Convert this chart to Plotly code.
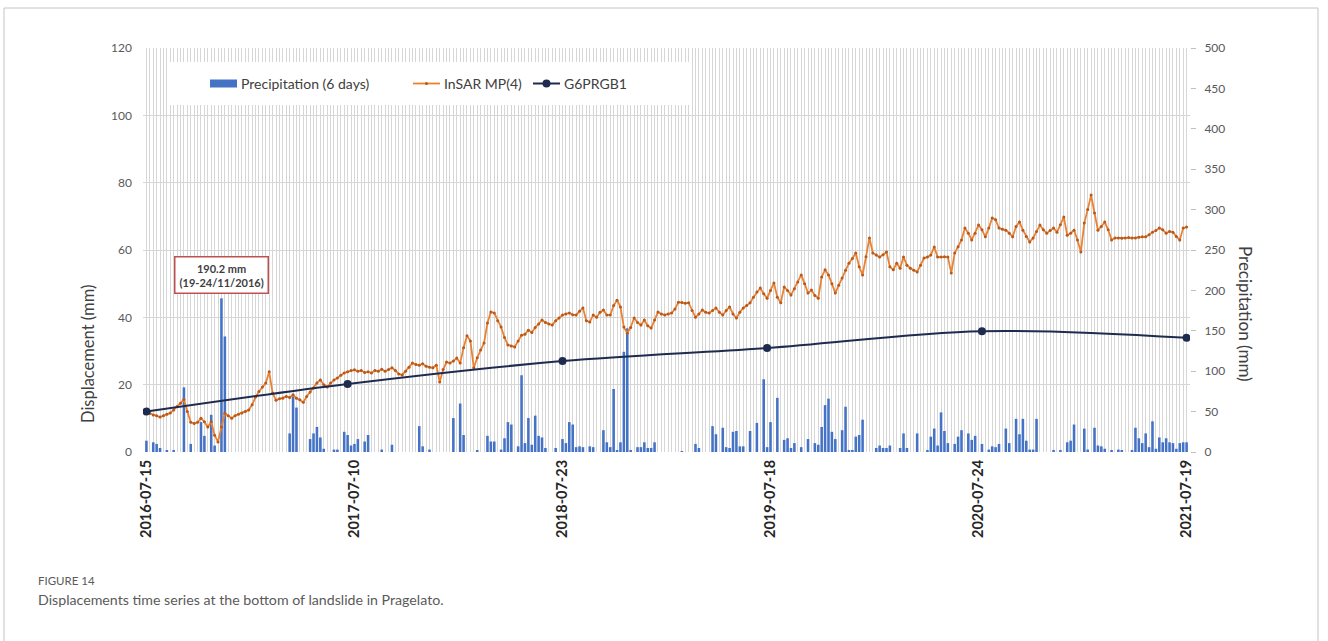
import plotly.graph_objects as go

# ---------------- data ----------------
tick_labels = ["2016-07-15", "2017-07-10", "2018-07-23", "2019-07-18", "2020-07-24", "2021-07-19"]
tick_index = [0, 61, 122, 183, 244, 305]

precipitation = [
    14, 0, 12, 10, 5, 0, 2, 0, 2, 0,
    0, 80, 0, 10, 0, 0, 37, 20, 0, 46,
    8, 0, 190.2, 143, 0, 0, 0, 0, 0, 0,
    0, 0, 0, 0, 0, 0, 0, 0, 0, 0,
    0, 0, 23, 69, 55, 0, 0, 0, 16, 23,
    31, 18, 4, 0, 0, 3, 3, 0, 25, 21,
    8, 10, 16, 0, 13, 21, 0, 0, 0, 3,
    0, 0, 9, 0, 0, 0, 0, 0, 0, 0,
    32, 7, 0, 3, 0, 0, 0, 0, 0, 0,
    42, 0, 60, 21, 0, 0, 0, 2, 0, 0,
    20, 13, 13, 0, 3, 17, 37, 34, 0, 7,
    95, 11, 42, 9, 45, 20, 18, 5, 0, 0,
    5, 0, 16, 11, 37, 34, 6, 7, 6, 0,
    7, 6, 0, 0, 27, 12, 6, 78, 2, 12,
    124, 153, 2, 0, 6, 6, 12, 5, 5, 12,
    0, 0, 0, 0, 0, 0, 0, 1, 0, 0,
    0, 10, 5, 0, 0, 0, 32, 22, 0, 30,
    6, 5, 25, 26, 7, 7, 0, 26, 0, 36,
    0, 90, 6, 37, 0, 67, 0, 15, 17, 5,
    11, 0, 6, 0, 16, 0, 11, 9, 31, 58,
    66, 25, 16, 0, 27, 56, 2, 2, 19, 21,
    40, 0, 0, 0, 5, 8, 5, 5, 8, 0,
    0, 5, 23, 5, 0, 0, 23, 0, 0, 2,
    19, 29, 8, 49, 26, 11, 0, 10, 19, 27,
    0, 23, 15, 20, 0, 10, 0, 3, 7, 6,
    10, 0, 29, 11, 0, 41, 22, 41, 14, 3,
    3, 41, 0, 0, 0, 0, 2, 0, 2, 0,
    12, 14, 34, 0, 0, 29, 3, 0, 30, 8,
    7, 4, 0, 2, 0, 3, 2, 0, 0, 2,
    30, 17, 11, 23, 6, 38, 4, 18, 12, 17,
    12, 11, 4, 11, 12, 12,
]

insar_mp4 = [
    11.8, 11.5, 11.0, 10.8, 10.4, 10.8, 11.2, 11.6, 12.5, 13.5,
    14.5, 15.6, 12.0, 8.8, 8.5, 8.8, 10.0, 9.0, 7.4, 9.0,
    5.0, 3.0, 7.4, 11.5, 10.8, 10.0, 10.8, 11.2, 11.6, 12.0,
    12.5, 14.0, 16.3, 18.0, 19.3, 20.5, 23.8, 17.5, 15.4, 15.8,
    16.0, 16.5, 16.2, 17.0, 16.0, 15.5, 14.8, 16.5, 17.8, 19.0,
    20.5, 21.4, 20.0, 19.3, 20.5, 21.4, 22.0, 22.8, 23.5, 23.8,
    24.2, 24.4, 24.0, 24.2, 23.6, 23.8, 23.5, 24.2, 24.0, 24.6,
    24.0, 24.5, 25.0, 24.2, 23.2, 22.9, 24.0, 25.2, 26.4, 26.0,
    25.8, 26.2, 25.5, 25.2, 25.0, 25.8, 20.8, 24.5, 26.7, 26.4,
    27.0, 27.9, 26.4, 31.0, 34.5, 33.0, 25.0, 28.0, 30.3, 32.4,
    38.3, 41.6, 41.3, 39.0, 37.1, 34.0, 31.8, 31.5, 31.2, 33.0,
    34.7, 35.0, 36.2, 35.5, 37.0, 38.0, 39.2, 38.5, 38.0, 37.7,
    39.0, 39.8, 40.7, 41.0, 41.3, 40.8, 40.7, 41.8, 42.8, 39.0,
    38.6, 40.7, 40.0, 41.5, 42.2, 40.7, 40.7, 43.5, 45.1, 43.1,
    37.1, 35.3, 37.0, 39.8, 38.5, 37.7, 39.2, 37.5, 36.8, 39.2,
    41.6, 41.0, 40.7, 41.0, 41.3, 42.5, 44.5, 44.4, 44.2, 44.3,
    42.0, 40.0, 41.0, 42.2, 41.5, 41.3, 42.0, 42.8, 41.5, 40.7,
    42.0, 43.1, 41.0, 39.8, 41.5, 42.8, 43.5, 44.3, 46.0, 47.5,
    48.7, 47.0, 45.7, 48.0, 50.2, 46.0, 44.3, 49.0, 48.0, 46.6,
    48.5, 50.5, 52.6, 50.0, 47.2, 48.1, 46.5, 45.7, 52.0, 54.1,
    52.6, 50.0, 47.2, 49.5, 51.7, 54.0, 56.1, 57.5, 59.1, 55.0,
    52.6, 58.0, 63.6, 59.1, 58.5, 57.9, 58.6, 59.4, 55.0, 54.1,
    56.1, 54.6, 57.9, 55.5, 54.6, 54.0, 53.5, 55.5, 57.6, 57.9,
    58.5, 60.9, 57.9, 57.9, 58.0, 57.9, 53.2, 59.1, 61.0, 63.0,
    66.5, 65.0, 63.0, 65.0, 67.4, 66.0, 63.9, 66.5, 69.5, 69.0,
    66.5, 66.2, 65.9, 65.0, 63.9, 67.0, 68.3, 65.9, 64.0, 62.4,
    63.6, 65.5, 67.4, 66.0, 65.0, 65.8, 66.5, 65.3, 67.5, 69.8,
    64.4, 65.0, 65.9, 63.0, 59.4, 68.0, 72.0, 76.3, 71.0, 65.9,
    67.0, 68.3, 66.0, 63.0, 63.6, 63.6, 63.5, 63.6, 63.7, 63.6,
    63.6, 63.8, 63.9, 63.9, 64.5, 65.3, 65.8, 66.5, 66.0, 65.0,
    65.5, 65.3, 64.0, 63.0, 66.5, 66.8,
]

gnss_index = [0, 59, 122, 182, 245, 305]
gnss_g6prgb1 = [12.0, 20.2, 27.0, 30.9, 35.9, 33.9]

# ---------------- figure ----------------
idx_p = list(range(len(precipitation)))
idx_i = list(range(len(insar_mp4)))

L, R, T, B = 143, 138, 48, 189
W, H = 1328, 641
PW = W - L - R
PH = H - T - B


def px(xp):
    return (xp - L) / PW


def py(yp):
    return (H - B - yp) / PH


BLUE = "#4472C4"
ORANGE = "#EA8233"
ORANGE_DK = "#B8581A"
NAVY = "#1F2B4E"
GRID = "#d6d6d6"
FONT = "Lato"

fig = go.Figure()
fig.add_trace(go.Bar(x=idx_p, y=precipitation, name="Precipitation (6 days)",
                     marker=dict(color=BLUE, line=dict(width=0)), width=0.75,
                     yaxis="y"))
fig.add_trace(go.Scatter(x=idx_i, y=insar_mp4, name="InSAR MP(4)", mode="lines+markers",
                         line=dict(color=ORANGE, width=1.8),
                         marker=dict(size=3, color=ORANGE_DK), yaxis="y2"))
fig.add_trace(go.Scatter(x=gnss_index, y=gnss_g6prgb1, name="G6PRGB1", mode="lines+markers",
                         line=dict(color=NAVY, width=2, shape="spline", smoothing=1),
                         marker=dict(size=8, color=NAVY), yaxis="y2"))

fig.update_layout(
    width=W, height=H,
    margin=dict(l=L, r=R, t=T, b=B),
    paper_bgcolor="white", plot_bgcolor="white",
    showlegend=False,
    font=dict(family=FONT, color="#404040"),
    xaxis=dict(range=[-1, 306], tickmode="array", tickvals=tick_index, ticktext=tick_labels,
               tickangle=-90, tickfont=dict(size=14.5, color="#262626", family=FONT, weight="bold"),
               showgrid=True, gridcolor=GRID, gridwidth=1, zeroline=False, showline=False,
               ticks="", ticklabelstandoff=4,
               minor=dict(dtick=1, tick0=0, showgrid=True, gridcolor=GRID, gridwidth=1, ticks="")),
    yaxis=dict(side="right", range=[0, 500], dtick=50, showgrid=False, zeroline=False,
               ticks="outside", ticklen=5, tickcolor="#bfbfbf",
               tickfont=dict(size=12, color="#595959"), ticklabelstandoff=6),
    yaxis2=dict(overlaying="y", side="left", range=[0, 120], dtick=20, showgrid=True,
                gridcolor=GRID, zeroline=False, ticks="",
                tickfont=dict(size=12, color="#595959"), ticklabelstandoff=10),
)

shapes = []
ann = []

# outer frame (open at bottom)
fx0, fx1, fy0 = px(4), px(1318), py(8)
fyb = py(700)
shapes.append(dict(type="path", xref="paper", yref="paper",
                   path=f"M {fx0} {fyb} L {fx0} {fy0} L {fx1} {fy0} L {fx1} {fyb}",
                   line=dict(color="#c4c4c4", width=1), layer="above"))

# legend box
shapes.append(dict(type="rect", xref="paper", yref="paper", x0=px(167), x1=px(690),
                   y0=py(105), y1=py(62), fillcolor="white", line=dict(width=0), layer="above"))
shapes.append(dict(type="rect", xref="paper", yref="paper", x0=px(210), x1=px(237),
                   y0=py(87.5), y1=py(79.5), fillcolor=BLUE, line=dict(width=0), layer="above"))
shapes.append(dict(type="line", xref="paper", yref="paper", x0=px(413), x1=px(440),
                   y0=py(83.5), y1=py(83.5), line=dict(color=ORANGE, width=1.8), layer="above"))
shapes.append(dict(type="circle", xref="paper", yref="paper", x0=px(425), x1=px(428),
                   y0=py(85), y1=py(82), fillcolor=ORANGE_DK, line=dict(width=0), layer="above"))
shapes.append(dict(type="line", xref="paper", yref="paper", x0=px(533), x1=px(560),
                   y0=py(83.5), y1=py(83.5), line=dict(color=NAVY, width=2), layer="above"))
shapes.append(dict(type="circle", xref="paper", yref="paper", x0=px(542.5), x1=px(550.5),
                   y0=py(87.5), y1=py(79.5), fillcolor=NAVY, line=dict(width=0), layer="above"))

legend_font = dict(size=14, color="#404040", family=FONT)
for xt, txt in [(239, "Precipitation (6 days)"), (442, "InSAR MP(4)"), (562, "G6PRGB1")]:
    ann.append(dict(xref="paper", yref="paper", x=px(xt), y=py(83.5), text=txt,
                    showarrow=False, xanchor="left", yanchor="middle", font=legend_font))

# callout
ann.append(dict(xref="paper", yref="paper", x=px(221), y=py(275),
                text="<b>190.2 mm</b><br><b>(19-24/11/2016)</b>", showarrow=False,
                xanchor="center", yanchor="middle", align="center",
                font=dict(size=11, color="#404040", family=FONT),
                bordercolor="#C0504D", borderwidth=1.5, borderpad=4, bgcolor="white"))

# axis titles
ann.append(dict(xref="paper", yref="paper", x=px(88), y=py(354), text="Displacement (mm)",
                textangle=-90, showarrow=False, xanchor="center", yanchor="middle",
                font=dict(size=16.5, color="#404040", family=FONT)))
ann.append(dict(xref="paper", yref="paper", x=px(1245), y=py(314), text="Precipitation (mm)",
                textangle=90, showarrow=False, xanchor="center", yanchor="middle",
                font=dict(size=17, color="#404040", family=FONT)))

# caption
ann.append(dict(xref="paper", yref="paper", x=px(36), y=py(580), text="FIGURE 14",
                showarrow=False, xanchor="left", yanchor="middle",
                font=dict(size=11.5, color="#5a5a5a", family=FONT)))
ann.append(dict(xref="paper", yref="paper", x=px(36), y=py(599),
                text="Displacements time series at the bottom of landslide in Pragelato.",
                showarrow=False, xanchor="left", yanchor="middle",
                font=dict(size=14.2, color="#5a5a5a", family=FONT)))

fig.update_layout(shapes=shapes, annotations=ann)
fig.write_html("out.html",
               config={"displayModeBar": False},
               post_script="document.body.style.margin='0';document.body.style.padding='0';"
                           "document.body.style.overflow='hidden';")
